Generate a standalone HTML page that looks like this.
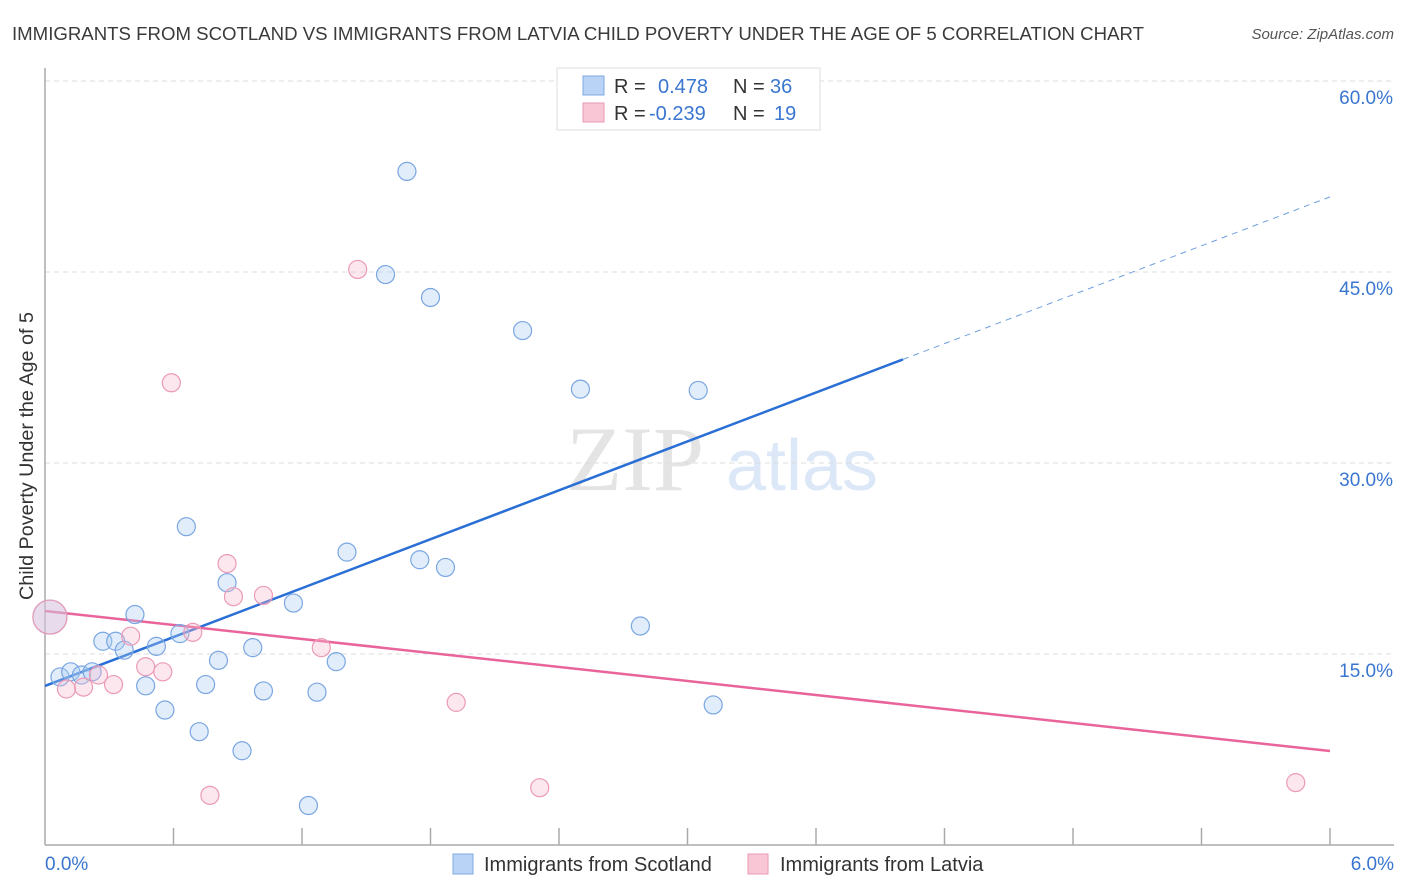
<!DOCTYPE html>
<html><head><meta charset="utf-8"><style>
body{margin:0;background:#fff;font-family:"Liberation Sans",sans-serif}
svg{display:block}
</style></head><body>
<svg id="chart" width="1406" height="892" xmlns="http://www.w3.org/2000/svg" font-family="Liberation Sans, sans-serif">
<text x="12" y="40" font-size="18" fill="#3a3a3a" textLength="1132" lengthAdjust="spacingAndGlyphs">IMMIGRANTS FROM SCOTLAND VS IMMIGRANTS FROM LATVIA CHILD POVERTY UNDER THE AGE OF 5 CORRELATION CHART</text>
<text x="1394" y="39" font-size="15" fill="#555" font-style="italic" text-anchor="end">Source: ZipAtlas.com</text>
<g>
<text x="635" y="490" font-size="92" fill="#e4e4e4" font-family="Liberation Serif, serif" text-anchor="middle">ZIP</text>
<text x="802" y="490" font-size="72" fill="#dce8f7" text-anchor="middle">atlas</text>
</g>
<g id="grid"></g>
<g id="axes"></g>
<g id="trend"></g>
<g id="points"></g>
<text transform="translate(33,456) rotate(-90)" font-size="19" fill="#333" text-anchor="middle" textLength="288" lengthAdjust="spacingAndGlyphs">Child Poverty Under the Age of 5</text>
<g>
<rect x="557" y="68" width="263" height="62" fill="#fff" stroke="#ddd"/>
<rect x="583" y="76" width="21" height="19" fill="#b8d3f5" stroke="#7fa8e0"/>
<rect x="583" y="103" width="21" height="19" fill="#f9c6d6" stroke="#e99ab3"/>
<text x="614" y="93" font-size="20" fill="#333">R =</text>
<text x="658" y="93" font-size="20" fill="#3a76d0">0.478</text>
<text x="733" y="93" font-size="20" fill="#333">N =</text>
<text x="770" y="93" font-size="20" fill="#3a76d0">36</text>
<text x="614" y="120" font-size="20" fill="#333">R =</text>
<text x="649" y="120" font-size="20" fill="#3a76d0">-0.239</text>
<text x="733" y="120" font-size="20" fill="#333">N =</text>
<text x="774" y="120" font-size="20" fill="#3a76d0">19</text>
</g>
<g>
<rect x="453" y="854" width="20" height="20" fill="#b8d3f5" stroke="#7fa8e0"/>
<text x="484" y="871" font-size="20" fill="#333">Immigrants from Scotland</text>
<rect x="748" y="854" width="20" height="20" fill="#f9c6d6" stroke="#e99ab3"/>
<text x="780" y="871" font-size="20" fill="#333">Immigrants from Latvia</text>
</g>
</svg>
<script>
const yTicks=[15,30,45,60];
const yTickLabels=["15.0%","30.0%","45.0%","60.0%"];
const xTickLabels=["0.0%","6.0%"];
const scotlandX=[0.023,0.07,0.12,0.17,0.22,0.27,0.33,0.37,0.42,0.47,0.52,0.56,0.63,0.66,0.72,0.75,0.81,0.85,0.92,0.97,1.02,1.16,1.23,1.27,1.36,1.41,1.59,1.69,1.75,1.80,1.87,2.23,2.50,2.78,3.05,3.12];
const scotlandY=[17.9,13.2,13.6,13.35,13.6,16.0,16.0,15.3,18.1,12.5,15.6,10.6,16.6,25.0,8.9,12.6,14.5,20.6,7.4,15.5,12.1,19.0,3.1,12.0,14.4,23.0,44.8,52.9,22.4,43.0,21.8,40.4,35.8,17.2,35.7,11.0];
const latviaX=[0.023,0.10,0.18,0.25,0.32,0.40,0.47,0.55,0.59,0.69,0.77,0.85,0.88,1.02,1.29,1.46,1.92,2.31,5.84];
const latviaY=[17.9,12.25,12.4,13.35,12.6,16.4,14.0,13.6,36.3,16.7,3.9,22.1,19.5,19.6,15.5,45.2,11.2,4.5,4.9];
const scotlandTrend=[12.49,50.9];
const latviaTrend=[18.38,7.38];
const blueSolidEnd=4.006;

const NS="http://www.w3.org/2000/svg";
const X=v=>45+v/6*1285;
const Y=v=>845-v/15*191;
function mk(tag,attrs,parent){const e=document.createElementNS(NS,tag);for(const k in attrs)e.setAttribute(k,attrs[k]);parent.appendChild(e);return e;}
const grid=document.getElementById('grid'),axes=document.getElementById('axes'),trend=document.getElementById('trend'),pts=document.getElementById('points');
yTicks.forEach((t,i)=>{
 const l=mk('line',{x1:45,x2:1394,y1:Y(t),y2:Y(t),stroke:'#ddd','stroke-dasharray':'5,4'},grid);
 
 
 const tx=mk('text',{x:1393,y:Y(t)+23,'font-size':19,fill:'#3a76d0','text-anchor':'end'},grid);
 tx.textContent=yTickLabels[i];
 
 
});
mk('line',{x1:45,x2:45,y1:68,y2:845,stroke:'#aaa','stroke-width':1.5},axes);
mk('line',{x1:45,x2:1394,y1:845,y2:845,stroke:'#aaa','stroke-width':1.5},axes);
for(let i=1;i<=10;i++){const x=X(i*0.6);const t=mk('line',{x1:x,x2:x,y1:828,y2:845,stroke:'#aaa','stroke-width':1.5},axes);}
[[0,'start',45],[6,'end',1394]].forEach((d,i)=>{const t=mk('text',{x:d[2],y:870,'font-size':19,fill:'#3a76d0','text-anchor':d[1]},axes);t.textContent=xTickLabels[i];});
function tv(tr,x){return tr[0]+(tr[1]-tr[0])*x/6;}
function drawPts(xs,ys,fill,stroke,name){
 xs.forEach((x,i)=>{const c=mk('circle',{cx:X(x),cy:Y(ys[i]),r:i===0?17:9,fill:fill,stroke:stroke,'stroke-width':1.2},pts);
 
 });
}
drawPts(scotlandX,scotlandY,'rgba(170,202,242,0.35)','#7aa6e2','scotland-point');
drawPts(latviaX,latviaY,'rgba(247,186,207,0.35)','#eb9ab6','latvia-point');
const b1=mk('line',{x1:X(0),y1:Y(tv(scotlandTrend,0)),x2:X(blueSolidEnd),y2:Y(tv(scotlandTrend,blueSolidEnd)),stroke:'#2a6fd6','stroke-width':2.5},trend);


const b2=mk('line',{x1:X(blueSolidEnd),y1:Y(tv(scotlandTrend,blueSolidEnd)),x2:X(6),y2:Y(tv(scotlandTrend,6)),stroke:'#6f9fdf','stroke-width':1,'stroke-dasharray':'6,5'},trend);


const p1=mk('line',{x1:X(0),y1:Y(tv(latviaTrend,0)),x2:X(6),y2:Y(tv(latviaTrend,6)),stroke:'#e8649a','stroke-width':2.5},trend);


</script>
</body></html>
